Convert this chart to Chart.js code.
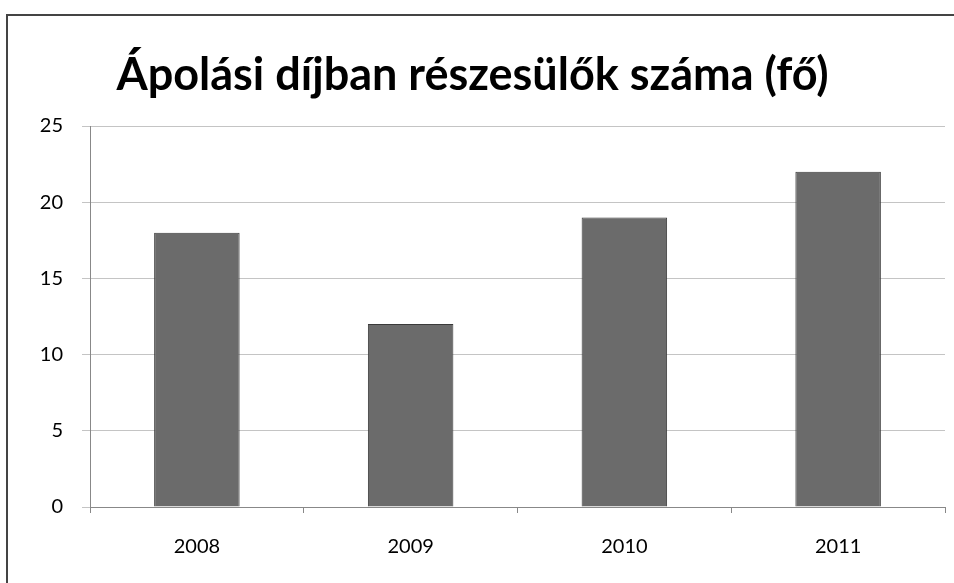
<!DOCTYPE html>
<html>
<head>
<meta charset="utf-8">
<script src="https://cdn.jsdelivr.net/npm/chart.js@4.4.1/dist/chart.umd.min.js"></script>
<style>
  html, body { margin: 0; padding: 0; background: #fff; }
  #wrap { width: 954px; height: 583px; position: relative; }
</style>
</head>
<body>
<div id="wrap"><canvas id="chart" width="954" height="583"></canvas></div>
<script>
const years = ['2008', '2009', '2010', '2011'];
const counts = [18, 12, 19, 22];
const yTicks = [0, 5, 10, 15, 20, 25];
const chartTitle = 'Ápolási díjban részesülők száma (fő)';

// frame of the scanned excel chart (left and top edge only visible)
const framePlugin = {
    id: 'frame',
    beforeDraw(c) {
        const ctx = c.ctx;
        ctx.save();
        ctx.strokeStyle = '#444';
        ctx.lineWidth = 2;
        ctx.beginPath();
        ctx.moveTo(7, 583);
        ctx.lineTo(7, 15);
        ctx.lineTo(954, 15);
        ctx.stroke();
        ctx.restore();
    }
};

const ctx = document.getElementById('chart').getContext('2d');
const chart = new Chart(ctx, {
    type: 'bar',
    data: {
        labels: years,
        datasets: [{
            data: counts,
            backgroundColor: '#6b6b6b',
            borderColor: '#3a3a3a',
            borderWidth: 1,
            barPercentage: 0.8,
            categoryPercentage: 0.5
        }]
    },
    options: {
        responsive: false,
        animation: false,
        layout: { padding: { left: 0, right: 9, top: 14, bottom: 6 } },
        plugins: {
            legend: { display: false },
            tooltip: { enabled: false },
            title: {
                display: true,
                text: chartTitle,
                color: '#000',
                font: { family: 'Lato', size: 45, weight: 'bold' },
                padding: { top: 34, bottom: 24 }
            }
        },
        scales: {
            x: {
                afterFit: s => { s.height = 70; },
                grid: { display: true, drawOnChartArea: false, tickLength: 6, color: '#888', offset: true },
                border: { color: '#888' },
                ticks: { color: '#000', font: { family: 'Lato', size: 20 }, padding: 22 }
            },
            y: {
                min: 0,
                max: 25,
                afterFit: s => { s.width = 90; },
                afterBuildTicks: s => { s.ticks = yTicks.map(v => ({ value: v })); },
                grid: { color: '#c4c4c4', tickLength: 8 },
                border: { color: '#888' },
                ticks: { color: '#000', font: { family: 'Lato', size: 20 }, padding: 19 }
            }
        }
    },
    plugins: [framePlugin]
});
</script>
</body>
</html>
